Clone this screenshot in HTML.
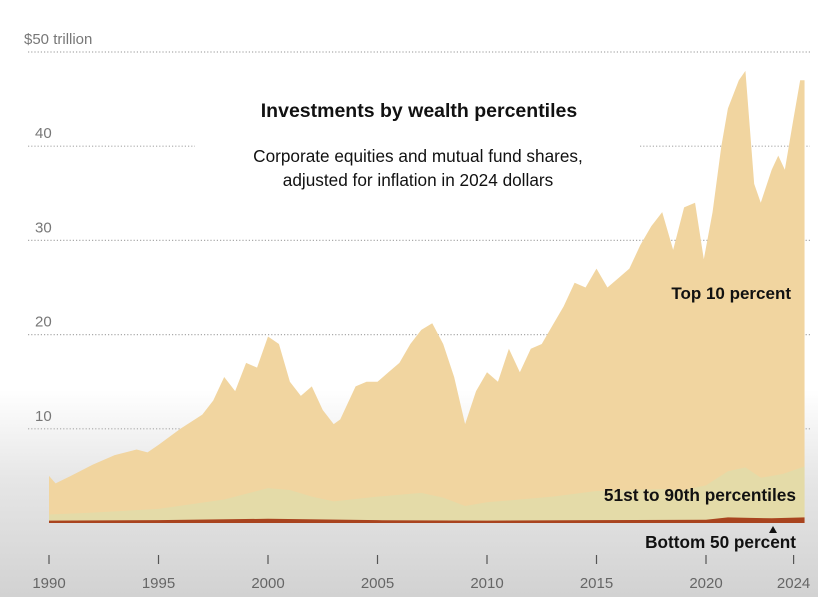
<!DOCTYPE html>
<html><head><meta charset="utf-8"><style>
html,body{margin:0;padding:0}
body{width:818px;height:597px;overflow:hidden;font-family:"Liberation Sans",sans-serif;background:linear-gradient(to bottom,#fff 0px,#fff 390px,#e6e6e6 480px,#d2d2d2 597px)}
svg{display:block}
</style></head><body>
<svg id="chart" width="818" height="597"></svg>
<script>
const years=[1990,1990.3,1991,1992,1993,1994,1994.5,1995,1996,1997,1997.5,1998,1998.5,1999,1999.5,2000,2000.5,2001,2001.5,2002,2002.5,2003,2003.3,2004,2004.5,2005,2005.5,2006,2006.5,2007,2007.5,2008,2008.5,2009,2009.5,2010,2010.5,2011,2011.5,2012,2012.5,2013,2013.5,2014,2014.5,2015,2015.5,2016,2016.5,2017,2017.5,2018,2018.5,2019,2019.5,2019.9,2020.3,2020.7,2021,2021.5,2021.8,2022.2,2022.5,2023,2023.3,2023.6,2024,2024.3,2024.5];
const totalVals=[5,4.2,5,6.2,7.2,7.8,7.5,8.3,10,11.5,13,15.5,14,17,16.5,19.8,19,15,13.5,14.5,12,10.5,11,14.5,15,15,16,17,19,20.5,21.2,19,15.5,10.5,14,16,15,18.5,16,18.5,19,21,23,25.5,25,27,25,26,27,29.5,31.5,33,29,33.5,34,28,33,40,44,47,48,36,34,37.5,39,37.5,43,47,47];
const midYears=[1990,1992,1995,1998,2000,2001,2002,2003,2005,2007,2008,2009,2010,2013,2015,2018,2019,2020,2021,2021.8,2022.5,2023.5,2024.5];
const midVals=[0.9,1.1,1.5,2.5,3.7,3.5,2.8,2.3,2.8,3.2,2.7,1.8,2.2,2.8,3.4,3.6,3.5,4,5.5,5.9,4.8,5.2,6];
const botYears=[1990,1995,2000,2005,2010,2015,2020,2021,2022,2023,2024.5];
const botVals=[0.25,0.3,0.45,0.3,0.25,0.3,0.35,0.6,0.55,0.5,0.6];
const yTicks=[10,20,30,40,50];
const xTicks=[1990,1995,2000,2005,2010,2015,2020,2024];

const X=y=>49+(y-1990)*21.9;
const Y=v=>523-v*9.42;
const NS="http://www.w3.org/2000/svg";
const svg=document.getElementById('chart');
function mk(t,a){const e=document.createElementNS(NS,t);for(const k in a)e.setAttribute(k,a[k]);svg.appendChild(e);return e;}
function area(xs,vs){let d=`M${X(xs[0])},${Y(0)}`;xs.forEach((x,i)=>d+=`L${X(x)},${Y(vs[i])}`);d+=`L${X(xs[xs.length-1])},${Y(0)}Z`;return d;}

yTicks.forEach(t=>{
  const y=Y(t);
  let segs=t==40?[[28,195],[640,810]]:[[28,810]];
  segs.forEach(s=>{const l=mk('line',{x1:s[0],x2:s[1],y1:y,y2:y,stroke:'#aaa','stroke-width':1.2,'stroke-dasharray':'1.2,2'});
  });
  const tx=mk('text',{x:t==50?24:35,y:y-8,fill:'#777','font-size':15});
  tx.textContent=t==50?'$50 trillion':String(t);
  
});

const a1=mk('path',{d:area(years,totalVals),fill:'#f1d5a0'});

const a2=mk('path',{d:area(midYears,midVals),fill:'#e4dba8'});

const a3=mk('path',{d:area(botYears,botVals),fill:'#a9441f'});


xTicks.forEach(t=>{
  const x=X(t);
  const l=mk('line',{x1:x,x2:x,y1:555,y2:564,stroke:'#555','stroke-width':1.2});
  
  const tx=mk('text',{x:x,y:588,fill:'#666','font-size':15,'text-anchor':'middle'});
  tx.textContent=t;
  
});

function label(txt,x,y,size,weight,name,anchor){const t=mk('text',{x:x,y:y,'font-size':size,'font-weight':weight,fill:'#111','text-anchor':anchor||'middle'});t.textContent=txt;}
label('Investments by wealth percentiles',419,117,19.5,'bold','chart-title');
label('Corporate equities and mutual fund shares,',418,162,17.2,'normal','subtitle-line1');
label('adjusted for inflation in 2024 dollars',418,186,17.2,'normal','subtitle-line2');
label('Top 10 percent',791,299,17,'bold','top-10-label','end');
label('51st to 90th percentiles',796,501,17.3,'bold','51-90-label','end');
label('Bottom 50 percent',796,548,17.2,'bold','bottom-50-label','end');
const ar=mk('path',{d:'M769,533 L777,533 L773,526 Z',fill:'#111'});

</script>
</body></html>
